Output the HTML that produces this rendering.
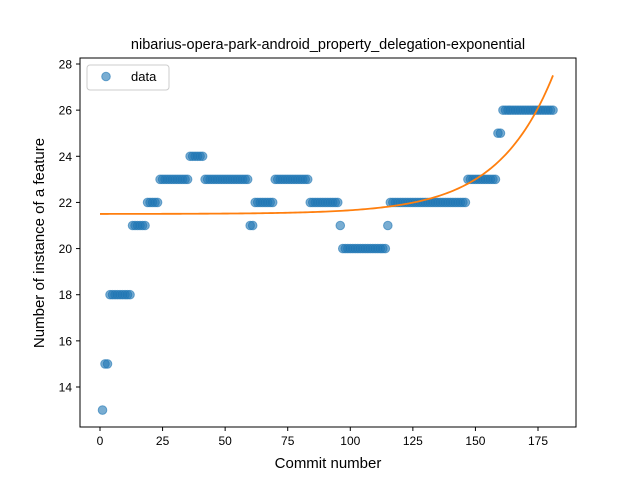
<!DOCTYPE html>
<html><head><meta charset="utf-8"><style>
body{margin:0;background:#fff}
svg{display:block;font-family:"Liberation Sans","DejaVu Sans",sans-serif}
</style></head><body>
<svg id="chart" width="640" height="480">
<rect width="640" height="480" fill="#fff"/>
<text x="328" y="49" text-anchor="middle" font-size="14.5">nibarius-opera-park-android_property_delegation-exponential</text>
<g id="grid"></g>
<g id="marks"></g>
<rect x="80" y="58" width="496" height="369" fill="none" stroke="#000" stroke-width="1"/>
<g id="axes"></g>
<text x="328" y="468" text-anchor="middle" font-size="15">Commit number</text>
<text transform="translate(44,243) rotate(-90)" text-anchor="middle" font-size="15">Number of instance of a feature</text>
<g>
<rect x="87" y="65" width="82" height="25" rx="3" fill="#fff" stroke="#ccc"/>
<circle cx="106" cy="76.5" r="4.3" fill="#1f77b4" fill-opacity="0.6" stroke="#1f77b4" stroke-opacity="0.6"/>
<text x="131" y="81" font-size="13">data</text>
</g>
</svg>
<script>
const runValues=[13,15,18,21,22,23,24,23,21,22,23,22,21,20,21,22,23,25,26];
const runLengths=[1,2,9,6,5,12,6,18,2,8,14,12,1,18,1,31,12,2,21];
const xTicks=[0,25,50,75,100,125,150,175];
const yTicks=[14,16,18,20,22,24,26,28];
const fitBase=21.5, fitK=0.00184, fitB=0.0447;
const NS='http://www.w3.org/2000/svg';
const sx=v=>100+v*(438/175);
const sy=v=>387-(v-14)*(323/14);
const marks=document.getElementById('marks');
const axes=document.getElementById('axes');
function mk(tag,attrs,parent){const e=document.createElementNS(NS,tag);for(const k in attrs)e.setAttribute(k,attrs[k]);parent.appendChild(e);return e;}
let idx=1;
for(let r=0;r<runValues.length;r++){
  for(let j=0;j<runLengths[r];j++){
    const c=mk('circle',{cx:sx(idx),cy:sy(runValues[r]),r:4.3,fill:'#1f77b4','fill-opacity':0.6,stroke:'#1f77b4','stroke-opacity':0.6},marks);
    
    
    idx++;
  }
}
let d='';
for(let x=0;x<=181;x+=1){const y=fitBase+fitK*Math.exp(fitB*x);d+=(x?'L':'M')+sx(x).toFixed(2)+','+sy(y).toFixed(2);}
const fit=mk('path',{d:d,fill:'none',stroke:'#ff7f0e','stroke-width':1.8},marks);


xTicks.forEach(t=>{
  const l=mk('line',{x1:sx(t),x2:sx(t),y1:427,y2:431,stroke:'#000'},axes);
  
  
  const tx=mk('text',{x:sx(t),y:445,'text-anchor':'middle','font-size':12},axes);
  tx.textContent=t;
  
  
});
yTicks.forEach(t=>{
  const l=mk('line',{x1:76,x2:80,y1:sy(t),y2:sy(t),stroke:'#000'},axes);
  
  
  const tx=mk('text',{x:72,y:sy(t)+4.5,'text-anchor':'end','font-size':12},axes);
  tx.textContent=t;
  
  
});
</script>
</body></html>
